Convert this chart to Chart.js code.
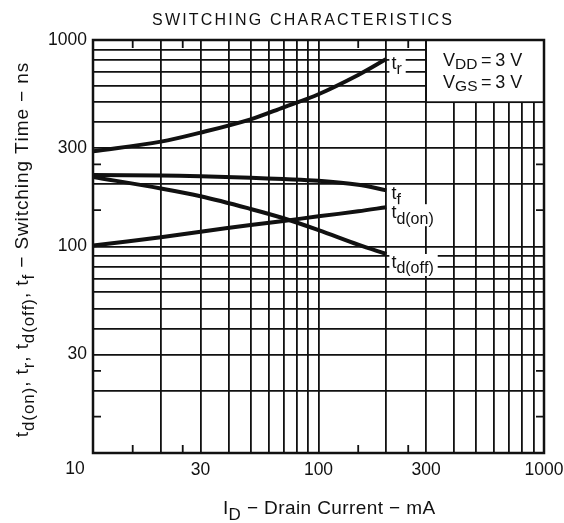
<!DOCTYPE html>
<html>
<head>
<meta charset="utf-8">
<script src="https://cdn.jsdelivr.net/npm/chart.js@4.4.1/dist/chart.umd.min.js"></script>
<style>
  html, body { margin: 0; padding: 0; background: #fff; }
  #wrap { width: 564px; height: 523px; position: relative; }
</style>
</head>
<body>
<div id="wrap"><canvas id="chart"></canvas></div>
<script>
/* ─── Data ─── */
const currentMA = [10, 20, 30, 50, 70, 100, 150, 200];
const tRise     = [289, 322, 356, 413, 472, 546, 677, 809];
const tFall     = [222, 221, 219, 215, 212, 208, 199, 187];
const tdOn      = [101, 111, 118, 127, 133, 140, 148, 155];
const tdOff     = [217, 191, 175, 152, 137, 120, 102, 92];

const gridValues   = [10, 20, 30, 40, 50, 60, 70, 80, 90, 100, 200, 300, 400, 500, 600, 700, 800, 900, 1000];
const xLabelValues = [30, 100, 300, 1000];
const yLabelValues = [30, 100, 300, 1000];
const minorTicks   = [15, 25, 150, 250];

const FONT = '"Liberation Sans", Arial, sans-serif';
const INK = '#111';

/* ─── Text with subscripts: parts = [[text, isSub], ...] ─── */
function richWidth(ctx, parts, size, subSize, sp) {
  let w = 0;
  parts.forEach(([t, sub]) => {
    ctx.font = (sub ? subSize : size) + 'px ' + FONT;
    for (const c of t) w += ctx.measureText(c).width + sp;
  });
  return w - sp;
}

function drawRich(ctx, parts, x, y, size, align, opts = {}) {
  const subSize = opts.subSize || Math.round(size * 0.85);
  const subDrop = opts.subDrop !== undefined ? opts.subDrop : size * 0.3;
  const sp = opts.spacing || 0;
  const w = richWidth(ctx, parts, size, subSize, sp);
  let cx = align === 'center' ? x - w / 2 : align === 'right' ? x - w : x;
  ctx.textAlign = 'left';
  ctx.textBaseline = 'alphabetic';
  parts.forEach(([t, sub]) => {
    ctx.font = (sub ? subSize : size) + 'px ' + FONT;
    for (const c of t) {
      ctx.fillText(c, cx, sub ? y + subDrop : y);
      cx += ctx.measureText(c).width + sp;
    }
  });
  return w;
}

/* ─── Curve labels at the right end of each curve ─── */
const curveLabels = [
  { data: tRise, parts: [['t', 0], ['r', 1]], dy: 10 },
  { data: tFall, parts: [['t', 0], ['f', 1]], dy: 9 },
  { data: tdOn,  parts: [['t', 0], ['d(on)', 1]], dy: 11 },
  { data: tdOff, parts: [['t', 0], ['d(off)', 1]], dy: 14 },
];

const decorPlugin = {
  id: 'decor',
  afterDatasetsDraw(chart) {
    const { ctx, chartArea: a, scales: { x, y } } = chart;
    ctx.save();
    ctx.fillStyle = INK;
    ctx.strokeStyle = INK;

    // short minor ticks on all four edges
    ctx.lineWidth = 1.8;
    minorTicks.forEach(v => {
      const px = x.getPixelForValue(v);
      const py = y.getPixelForValue(v);
      ctx.beginPath();
      ctx.moveTo(px, a.bottom); ctx.lineTo(px, a.bottom - 8);
      ctx.moveTo(px, a.top); ctx.lineTo(px, a.top + 8);
      ctx.moveTo(a.left, py); ctx.lineTo(a.left + 8, py);
      ctx.moveTo(a.right, py); ctx.lineTo(a.right - 8, py);
      ctx.stroke();
    });

    // curve labels with white backing
    const lastX = x.getPixelForValue(currentMA[currentMA.length - 1]);
    curveLabels.forEach(l => {
      const py = y.getPixelForValue(l.data[l.data.length - 1]) + l.dy;
      const w = richWidth(ctx, l.parts, 18, 16, 0);
      ctx.fillStyle = '#fff';
      ctx.fillRect(lastX + 3, py - 14, w + 6, 22);
      ctx.fillStyle = INK;
      drawRich(ctx, l.parts, lastX + 5, py, 18, 'left', { subSize: 16 });
    });

    // condition box
    const bx = x.getPixelForValue(300);
    const by = y.getPixelForValue(500);
    ctx.fillStyle = '#fff';
    ctx.fillRect(bx, a.top, a.right - bx, by - a.top);
    ctx.lineWidth = 1.8;
    ctx.strokeRect(bx, a.top, a.right - bx, by - a.top);
    ctx.fillStyle = INK;
    const cond = { subSize: 15.5, subDrop: 3 };
    drawRich(ctx, [['V', 0], ['DD', 1], ['\u2009=\u20093 V', 0]], bx + 17, a.top + 26, 18, 'left', cond);
    drawRich(ctx, [['V', 0], ['GS', 1], ['\u2009=\u20093 V', 0]], bx + 17, a.top + 48, 18, 'left', cond);

    // frame
    ctx.lineWidth = 2.5;
    ctx.strokeRect(a.left, a.top, a.right - a.left, a.bottom - a.top);
    ctx.restore();
  },
  afterDraw(chart) {
    const { ctx, scales: { x } } = chart;
    ctx.save();
    ctx.fillStyle = INK;

    // title, letter spaced
    drawRich(ctx, [['SWITCHING CHARACTERISTICS', 0]], 302, 25, 16, 'center', { spacing: 2.2 });

    // the "10" corner label sits left of the axis origin
    ctx.font = '17.5px ' + FONT;
    ctx.textAlign = 'center';
    ctx.textBaseline = 'alphabetic';
    ctx.fillText('10', x.getPixelForValue(10) - 18, 474);

    // x axis title
    drawRich(ctx, [['I', 0], ['D', 1], [' \u2212 Drain Current \u2212 mA', 0]], 329, 514, 19, 'center', { subSize: 17, spacing: 0.4 });

    // y axis title, rotated
    ctx.translate(28, 250);
    ctx.rotate(-Math.PI / 2);
    drawRich(ctx, [['t', 0], ['d(on)', 1], [', t', 0], ['r', 1], [', t', 0], ['d(off)', 1], [', t', 0], ['f', 1],
      [' \u2212 Switching Time \u2212 ns', 0]], 0, 0, 19, 'center', { subSize: 17, spacing: 0.9 });
    ctx.restore();
  }
};

/* ─── Chart ─── */
function series(data) {
  return {
    data: currentMA.map((v, i) => ({ x: v, y: data[i] })),
    borderColor: INK,
    borderWidth: 4,
    pointRadius: 0,
    tension: 0.35,
    fill: false,
  };
}

function logAxis(labels, extra) {
  return {
    type: 'logarithmic',
    min: 10,
    max: 1000,
    afterBuildTicks: s => { s.ticks = gridValues.map(v => ({ value: v })); },
    grid: { color: INK, lineWidth: 1.8, drawTicks: false },
    border: { display: false },
    ticks: {
      autoSkip: false,
      maxRotation: 0,
      color: INK,
      font: { family: FONT, size: 17.5 },
      callback: v => (labels.includes(v) ? String(v) : ''),
      ...extra,
    },
  };
}

new Chart(document.getElementById('chart'), {
  type: 'line',
  data: { datasets: [series(tRise), series(tFall), series(tdOn), series(tdOff)] },
  options: {
    responsive: true,
    maintainAspectRatio: false,
    animation: false,
    layout: { padding: { left: 0, right: 20, top: 40, bottom: 0 } },
    plugins: { legend: { display: false }, tooltip: { enabled: false } },
    scales: {
      x: {
        ...logAxis(xLabelValues, { padding: 7 }),
        afterFit: s => { s.height = 70; s.paddingLeft = 0; s.paddingRight = 0; },
      },
      y: {
        ...logAxis(yLabelValues, { padding: 6 }),
        afterFit: s => { s.width = 93; s.paddingTop = 0; s.paddingBottom = 0; },
      },
    },
  },
  plugins: [decorPlugin],
});
</script>
</body>
</html>
